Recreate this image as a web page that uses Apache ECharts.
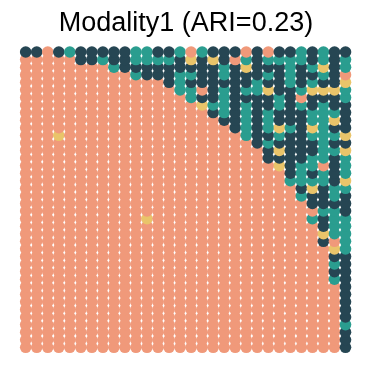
<!DOCTYPE html>
<html>
<head>
<meta charset="utf-8">
<script src="https://cdn.jsdelivr.net/npm/echarts@6/dist/echarts.min.js"></script>
<style>
html, body { margin: 0; padding: 0; background: #fff; }
#chart { width: 372px; height: 372px; }
</style>
</head>
<body>
<div id="chart"></div>
<script>
// cluster codes: D = dark, T = teal, Y = yellow, S = salmon
var clusterCodes = ['D', 'T', 'Y', 'S'];
var clusterColors = ['#264653', '#2A9D8F', '#E9C46A', '#F0997A'];
var nCols = 30;
var nRows = 40;

// labels of each column read from the top; rows below the string are salmon (S)
var columnLabels = [
	'D', 'D', 'S', 'D', 'T', 'DD', 'DD', 'DT', 'DDT', 'DDD',
	'TTDT', 'TTDD', 'DTDD', 'DTDDD', 'TDDTTT', 'SYDTDTT', 'TDDDDSDY', 'DYDDDDDTD', 'DDTTDTTTTD', 'DSDDDDDDDDD',
	'STYDDTDTTTTT', 'DDDDTTDDDDDDD', 'STDTDYDDTTTDTDD', 'DTDDDDTTDDYTDYDY', 'DTTTTDDDDDTDDDDDDT',
	'TTDDDTSTDDDDDDDTTTDT', 'DDTDTYDDTTYTDDTTDTYDDST', 'TTYTDYDTTTTTTTTSTTDDDTDDYD',
	'DDDDDYDDTYDTDTDDDDTTDTTTTSYDTDT', 'DTTSYTTDDDDYDYTTTYTDDDTTTTTDDDDDDDDDTDDD'
];
// single spots inside the salmon area: [column, row, code]
var outliers = [[3, 11, 'Y'], [11, 22, 'Y']];

var titleText = 'Modality1 (ARI=0.23)';

var labelAt = function(c, r) {
	for (var i = 0; i < outliers.length; i++) {
		if (outliers[i][0] == c && outliers[i][1] == r) return outliers[i][2];
	}
	var s = columnLabels[c];
	return r < s.length ? s.charAt(r) : 'S';
};

// bottom rows first, so upper rows sit on top
var points = [];
for (var r = nRows - 1; r >= 0; r--) {
	for (var c = 0; c < nCols; c++) {
		points.push([c, r, clusterCodes.indexOf(labelAt(c, r))]);
	}
}

var chart = echarts.init(document.getElementById('chart'));
chart.setOption({
	animation: false,
	title: {
		text: titleText,
		left: 'center',
		top: 5,
		textStyle: {
			fontFamily: 'Liberation Sans, Arial, sans-serif',
			fontSize: 27,
			fontWeight: 'normal',
			color: '#000'
		}
	},
	grid: { left: 25.7, right: 26.5, top: 52, bottom: 24.7 },
	xAxis: { type: 'value', min: 0, max: nCols - 1, show: false },
	yAxis: { type: 'value', min: 0, max: nRows - 1, inverse: true, show: false },
	series: [{
		type: 'scatter',
		data: points,
		symbolSize: 11.6,
		itemStyle: {
			opacity: 1,
			color: function(p) { return clusterColors[p.value[2]]; }
		}
	}]
});
</script>
</body>
</html>
